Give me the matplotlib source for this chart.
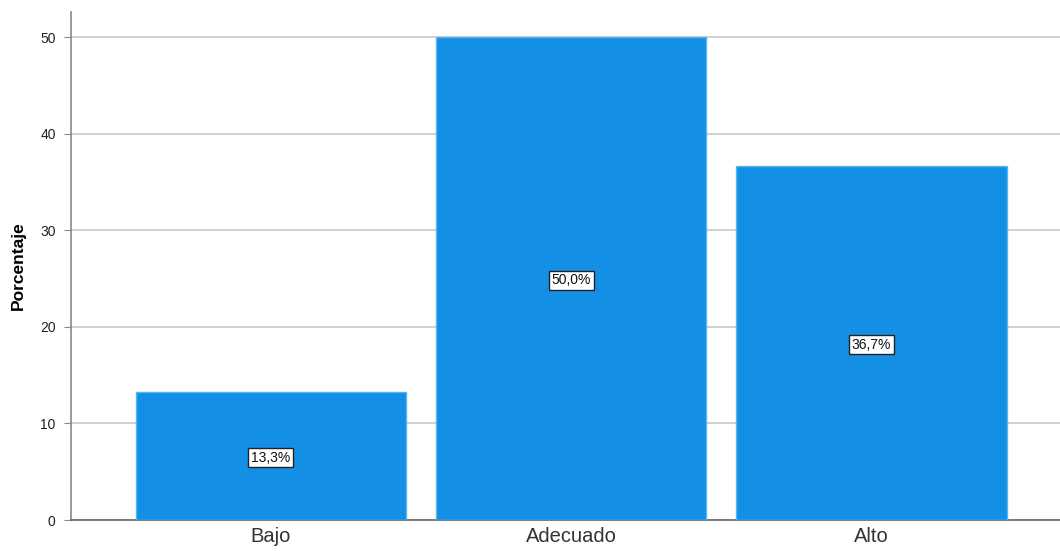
import matplotlib
matplotlib.use("Agg")
import matplotlib.pyplot as plt

plt.rcParams["font.family"] = ["Liberation Sans", "DejaVu Sans"]

categories = ["Bajo", "Adecuado", "Alto"]
values = [13.3, 50.0, 36.7]
labels = ["13,3%", "50,0%", "36,7%"]
yticks = [0, 10, 20, 30, 40, 50]

fig = plt.figure(figsize=(10.6, 5.51), dpi=100)
ax = fig.add_axes([71/1060, 31/551, 1 - 71/1060, (520-12)/551])

x = list(range(len(categories)))
ax.bar(x, values, width=0.9, color="#1390E6", edgecolor="#5AB4F0", linewidth=1, zorder=3)
for xi, v, lab in zip(x, values, labels):
    ax.text(xi, v/2 - 0.2, lab, ha="center", va="center", fontsize=10, color="#111111",
            bbox=dict(boxstyle="square,pad=0.2", fc="white", ec="#222222", lw=1), zorder=4)

ax.set_xlim(-0.665, 2.628)
ax.set_ylim(0, 52.6)
ax.set_yticks(yticks)
ax.set_yticklabels([str(t) for t in yticks], fontsize=10, color="#222222")
ax.set_xticks(x)
ax.set_xticklabels(categories, fontsize=14.5, color="#333333")
ax.tick_params(axis="y", length=5, color="#888888", pad=6)
ax.tick_params(axis="x", length=0, pad=5)
ax.grid(axis="y", color="#C8C8C8", linewidth=1.2, zorder=0)
ax.set_axisbelow(True)
for s in ["top", "right"]:
    ax.spines[s].set_visible(False)
ax.spines["left"].set_color("#888888")
ax.spines["bottom"].set_color("#666666")
ax.spines["left"].set_linewidth(1.2)
ax.spines["bottom"].set_linewidth(1.2)
ax.set_ylabel("Porcentaje", fontsize=12.5, fontweight="bold", labelpad=10)

fig.savefig("out.png", dpi=100)
